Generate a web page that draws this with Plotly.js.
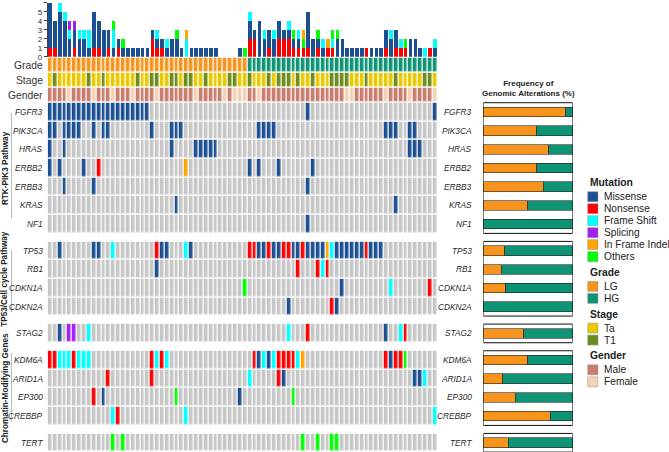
<!DOCTYPE html>
<html>
<head>
<meta charset="utf-8">
<script src="https://cdn.plot.ly/plotly-3.0.1.min.js"></script>
<style>html,body{margin:0;padding:0;background:#fff}#plot{width:669px;height:452px}</style>
</head>
<body>
<div id="plot"></div>
<script>
const W = 669, H = 452;
const nSamples = 80;
const samples = Array.from({length: nSamples}, (_, i) => i);

// clinical tracks, one letter per sample (spaces only for reading)
const grade  = "LLLLLLLLLL LLLLLLLLLL LLLLLLLLLL LLLLLLLLLL LHHHHHHHHH HHHHHHHHHH HHHHHHHHHH HHHHHHHHHH"; // L = LG, H = HG
const stage  = "a1aaaaaa1a a1aaaaaa1a a11aa11a11 aa1aaaa11a a1aaa1a111 a1aa1aaa11 11aaa1aaaa a1aaaaa11a"; // a = Ta, 1 = T1
const gender = "MMMMFMMMMF MMMFMMMFMM MMFMMMMMMM FMMMMMFMFF FMMFMMMMMM MMMMMMMMMM MFFMMMMMMF MMMMFMMMMF"; // M = Male, F = Female

const genes = ['FGFR3','PIK3CA','HRAS','ERBB2','ERBB3','KRAS','NF1',
               'TP53','RB1','CDKN1A','CDKN2A',
               'STAG2',
               'KDM6A','ARID1A','EP300','CREBBP',
               'TERT'];
const groupSizes = [7, 4, 1, 4, 1];
const groupLabels = ['RTK-PIK3 Pathway', 'TP53/Cell cycle Pathway', '', 'Chromatin-Modifying Genes', ''];

// sample index (or range) + type: M missense, N nonsense, F frame shift, S splicing, I in frame indel, O others
const geneCalls = [
  "0-20M 53M 79M",
  "0M 1M 3-6M 9M 11M 12M 21M 25-27M 43-46M 69-71M 74M 75M",
  "0M 3M 25M 30-34M 74-76M",
  "0M 2M 7M 10N 28I 41M 43M 47M 54M",
  "3M 9M 53M",
  "26M 71M",
  "53M",
  "2M 9M 10M 13F 22N 23M 24M 28F 29M 41N 42N 43M 44M 45N 46M 47M 48N 49N 50M 51M 52N 53M 54M 55M 56M 57I 58F 59-64M 65N 66-68M",
  "22M 51N 55N 56F 57N",
  "40O 60M 70F 78N",
  "49M 58N 59M",
  "2M 4S 5S 8F 49F 53N 69M 72F 73N",
  "0N 1N 2-4F 5N 6-8F 21N 22F 23N 24F 42N 43M 44F 45M 46F 47-50N 51F 52I 69N 70M 71N 72N 73O",
  "12N 21N 41F 47N 48M 75M 76M 77F",
  "9N 11M 26O 39M 50O",
  "13F 14N 28F 79F",
  "13O 15O 52O 55O 58O 59O"
];

// alterations per sample (top bar chart)
const missense =     [5,3,5,4,2,2,2,2,1,4, 3,3,2,1,1,1,1,1,1,1, 1,1,1,1,1,2,2,1,0,1, 1,1,1,1,1,0,0,0,0,1,
                      0,2,1,4,2,2,2,2,1,1, 1,1,0,4,2,1,1,0,0,2, 2,1,1,1,1,0,1,1,1,2, 2,2,0,0,2,2,1,0,0,1];
const nonsense =     [1,1,0,0,0,1,0,0,0,1, 1,0,1,0,1,0,0,0,0,0, 0,2,1,1,0,0,0,0,0,0, 0,0,0,0,0,0,0,0,0,0,
                      0,2,2,0,0,1,0,2,2,2, 1,1,1,1,0,1,0,1,1,0, 0,0,0,0,0,1,0,0,0,1, 0,1,1,1,0,0,0,0,1,0];
const frameShift =   [0,0,1,1,1,0,1,1,2,0, 0,0,0,2,0,0,0,0,0,0, 0,0,1,0,1,0,0,0,2,0, 0,0,0,0,0,0,0,0,0,0,
                      0,1,0,0,1,0,1,0,0,1, 0,1,0,0,0,0,1,0,1,0, 0,0,0,0,0,0,0,0,0,0, 1,0,1,0,0,0,0,1,0,1];
const splicing =     [0,0,0,0,1,1,0,0,0,0, 0,0,0,0,0,0,0,0,0,0, 0,0,0,0,0,0,0,0,0,0, 0,0,0,0,0,0,0,0,0,0,
                      0,0,0,0,0,0,0,0,0,0, 0,0,0,0,0,0,0,0,0,0, 0,0,0,0,0,0,0,0,0,0, 0,0,0,0,0,0,0,0,0,0];
const inFrameIndel = [0,0,0,0,0,0,0,0,0,0, 0,0,0,0,0,0,0,0,0,0, 0,0,0,0,0,0,0,0,1,0, 0,0,0,0,0,0,0,0,0,0,
                      0,0,0,0,0,0,0,0,0,0, 0,0,1,0,0,0,0,1,0,0, 0,0,0,0,0,0,0,0,0,0, 0,0,0,0,0,0,0,0,0,0];
const others =       [0,0,0,0,0,0,0,0,0,0, 0,0,0,1,0,1,0,0,0,0, 0,0,0,0,0,0,1,0,0,0, 0,0,0,0,0,0,0,0,0,0,
                      1,0,0,0,0,0,0,0,0,0, 1,0,1,0,0,1,0,0,1,1, 0,0,0,0,0,0,0,0,0,0, 0,0,0,1,0,0,0,0,0,0];

// share of alterations in LG tumours (%), rest is HG
const lgPercent = [92, 59, 73, 60, 67, 50, 0, 24, 20, 25, 0, 45, 50, 22, 36, 75, 28];

const mutTypes  = ['Missense', 'Nonsense', 'Frame Shift', 'Splicing', 'In Frame Indel', 'Others'];
const mutColors = ['#1b4f91', '#ff0000', '#00ffff', '#a020f0', '#ffa500', '#00ff00'];
const mutCounts = [missense, nonsense, frameShift, splicing, inFrameIndel, others];
const stackOrder = [1, 0, 2, 3, 5, 4];

const gradeNames = ['LG', 'HG'],      gradeColors = ['#f7941d', '#0e9474'];
const stageNames = ['Ta', 'T1'],      stageColors = ['#e8c900', '#6b8c1b'];
const genderNames = ['Male', 'Female'], genderColors = ['#c97c6c', '#f3d2b5'];
const noneColor = '#c6c6c6';

// ---- code table for the heatmap ----
const cellColors = [noneColor].concat(mutColors, gradeColors, stageColors, genderColors);
const mutCode = {M: 1, N: 2, F: 3, S: 4, I: 5, O: 6};
const nCodes = cellColors.length;
const colorscale = [];
cellColors.forEach((c, i) => { colorscale.push([i / nCodes, c]); colorscale.push([(i + 1) / nCodes, c]); });

const strip = s => s.replace(/ /g, '');
const gradeRow  = strip(grade).split('').map(ch => ch === 'L' ? 7 : 8);
const stageRow  = strip(stage).split('').map(ch => ch === 'a' ? 9 : 10);
const genderRow = strip(gender).split('').map(ch => ch === 'M' ? 11 : 12);

function parseCalls(s) {
  const row = new Array(nSamples).fill(0);
  s.split(/\s+/).filter(Boolean).forEach(tok => {
    const m = tok.match(/^(\d+)(?:-(\d+))?([A-Z])$/);
    const a = +m[1], b = m[2] ? +m[2] : a;
    for (let i = a; i <= b; i++) row[i] = mutCode[m[3]];
  });
  return row;
}

// ---- vertical geometry (pixels from top) ----
const annotTop = 57.8, annotRowH = 14.97;
const geneRowH = 18.67, groupGap = 8;

const yEdges = [annotTop], zRows = [], annotCenters = [], geneCenters = [], groupSpans = [];
let y = annotTop;
[gradeRow, stageRow, genderRow].forEach(r => {
  zRows.push(r); annotCenters.push(y + annotRowH / 2); y += annotRowH; yEdges.push(y);
});
let gi = 0;
groupSizes.forEach((n, g) => {
  if (g > 0) { zRows.push(new Array(nSamples).fill(null)); y += groupGap; yEdges.push(y); }
  const top = y;
  for (let k = 0; k < n; k++, gi++) {
    zRows.push(parseCalls(geneCalls[gi]));
    geneCenters.push(y + geneRowH / 2);
    y += geneRowH; yEdges.push(y);
  }
  groupSpans.push([top, y]);
});

const data = [];

data.push({
  type: 'heatmap', x: samples, y: yEdges, z: zRows,
  zmin: -0.5, zmax: nCodes - 0.5, colorscale: colorscale, showscale: false,
  xgap: 1.3, ygap: 1.5, hoverinfo: 'skip', xaxis: 'x', yaxis: 'y'
});

stackOrder.forEach(i => {
  data.push({
    type: 'bar', x: samples, y: mutCounts[i], name: mutTypes[i],
    marker: {color: mutColors[i], line: {width: 0}}, width: 0.74,
    xaxis: 'x', yaxis: 'y2', hoverinfo: 'skip'
  });
});

const hgPercent = lgPercent.map(v => 100 - v);
[[lgPercent, gradeColors[0]], [hgPercent, gradeColors[1]]].forEach(([vals, col]) => {
  data.push({
    type: 'bar', orientation: 'h', x: vals, y: geneCenters, width: 9.6,
    marker: {color: col, line: {color: '#222', width: 0.6}},
    xaxis: 'x2', yaxis: 'y', hoverinfo: 'skip'
  });
});

const font = 'Arial, "Liberation Sans", sans-serif';
const annotations = [];
const shapes = [];

['Grade', 'Stage', 'Gender'].forEach((t, i) => {
  annotations.push({text: t, x: 44.5 / W, xref: 'paper', xanchor: 'right', y: annotCenters[i] + 0.5, yref: 'y',
    showarrow: false, font: {size: 10.3, color: '#333'}});
});
genes.forEach((g, i) => {
  annotations.push({text: '<i>' + g + '</i>', x: 45 / W, xref: 'paper', xanchor: 'right', y: geneCenters[i], yref: 'y',
    showarrow: false, font: {size: 8.3, color: '#2a2a2a'}});
  annotations.push({text: '<i>' + g + '</i>', x: 474 / W, xref: 'paper', xanchor: 'right', y: geneCenters[i], yref: 'y',
    showarrow: false, font: {size: 8.3, color: '#2a2a2a'}});
});

const lineSpans = [[113, 218], [250, 312], null, [353, 422], null];
groupSpans.forEach(([top, bot], g) => {
  shapes.push({type: 'rect', xref: 'x2', yref: 'y', x0: 0, x1: 100, y0: top, y1: bot,
    line: {color: '#111', width: 1}, fillcolor: 'rgba(0,0,0,0)'});
  if (groupLabels[g]) {
    annotations.push({text: '<b>' + groupLabels[g] + '</b>', textangle: -90, x: 5 / W, xref: 'paper', xanchor: 'center',
      y: (top + bot) / 2, yref: 'y', showarrow: false, font: {size: 8.2, color: '#222'}});
  }
  if (lineSpans[g]) {
    shapes.push({type: 'line', xref: 'paper', yref: 'y', x0: 11.5 / W, x1: 11.5 / W,
      y0: lineSpans[g][0], y1: lineSpans[g][1], line: {color: '#bbb', width: 1}});
  }
});

annotations.push({text: '<b>Frequency of<br>Genomic Alterations (%)</b>', x: 528 / W, xref: 'paper', xanchor: 'center',
  y: 88.5, yref: 'y', showarrow: false, font: {size: 8, color: '#222'}});

// legend
const legendSections = [['Mutation', mutTypes, mutColors], ['Grade', gradeNames, gradeColors],
                        ['Stage', stageNames, stageColors], ['Gender', genderNames, genderColors]];
let ly = 182.7;
legendSections.forEach(([title, names, cols]) => {
  annotations.push({text: '<b>' + title + '</b>', x: 587.5 / W, xref: 'paper', xanchor: 'left', y: ly, yref: 'y',
    showarrow: false, font: {size: 10.3, color: '#222'}});
  ly += 14;
  names.forEach((nm, k) => {
    shapes.push({type: 'rect', xref: 'paper', yref: 'y', x0: 587.7 / W, x1: 598 / W, y0: ly - 5, y1: ly + 5,
      fillcolor: cols[k], line: {color: '#999', width: 0.5}});
    annotations.push({text: nm, x: 601.5 / W, xref: 'paper', xanchor: 'left', y: ly, yref: 'y',
      showarrow: false, font: {size: 10.2, color: '#222'}});
    ly += 12;
  });
  ly += 3.7;
});

const layout = {
  width: W, height: H, autosize: false,
  margin: {l: 0, r: 0, t: 0, b: 0, pad: 0},
  paper_bgcolor: '#fff', plot_bgcolor: 'rgba(0,0,0,0)',
  font: {family: font},
  showlegend: false,
  barmode: 'stack', bargap: 0,
  xaxis: {domain: [47.7 / W, 437.3 / W], range: [-0.5, nSamples - 0.5], visible: false, fixedrange: true},
  yaxis: {domain: [0, 1], range: [H, 0], visible: false, fixedrange: true},
  yaxis2: {domain: [1 - 56.7 / H, 1 - 2.7 / H], range: [0, 6], anchor: 'x', tickvals: [0,1,2,3,4,5,6],
    ticks: 'outside', ticklen: 3, tickcolor: '#444', showline: true, linecolor: '#444', linewidth: 1,
    showgrid: false, zeroline: false, tickfont: {size: 8, color: '#333'}, fixedrange: true},
  xaxis2: {domain: [483.3 / W, 572.7 / W], range: [0, 100], anchor: 'y', visible: false, fixedrange: true},
  annotations: annotations,
  shapes: shapes
};

Plotly.newPlot('plot', data, layout, {displayModeBar: false, staticPlot: true});
</script>
</body>
</html>
